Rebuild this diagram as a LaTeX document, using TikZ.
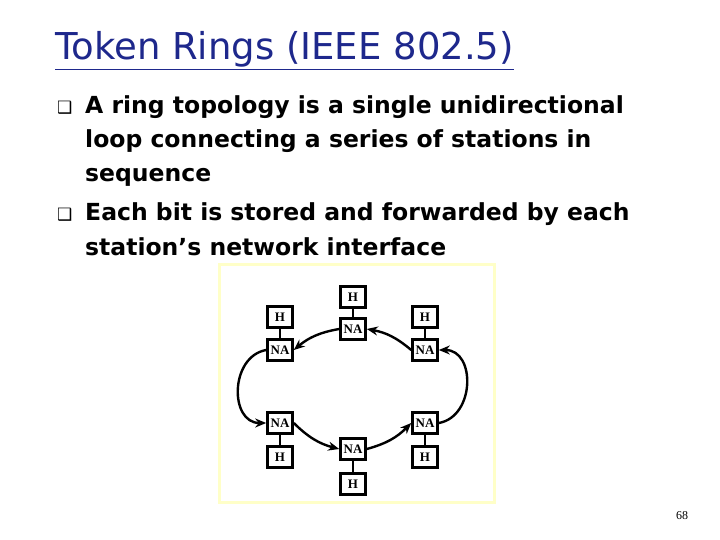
\documentclass[tikz,border=0pt]{standalone}
\usepackage{fontspec}
\setmainfont{DejaVu Sans}
\newfontfamily\serifnum{Liberation Serif}
\usetikzlibrary{arrows.meta}
\definecolor{titleblue}{RGB}{30,40,140}
\definecolor{frameyel}{RGB}{255,255,200}
\tikzset{
  box/.style={draw,line width=2.6pt,minimum width=25pt,minimum height=21pt,inner sep=0pt,font=\serifnum\bfseries\fontsize{13}{14}\selectfont},
  link/.style={line width=2.2pt},
  ring/.style={line width=2.4pt,-{Stealth[length=11pt,width=9pt]}},
  body/.style={anchor=base west,font=\fontsize{23.5}{26}\selectfont\bfseries,inner sep=0pt}
}
\begin{document}
\begin{tikzpicture}[x=1pt,y=-1pt]
\useasboundingbox (0,0) rectangle (720,540);
\fill[white] (0,0) rectangle (720,540);
\node[anchor=base west,inner sep=0pt,text=titleblue,font=\fontsize{37}{40}\selectfont] (title) at (55,60) {\underline{Token Rings (IEEE 802.5)}};
\node[body] (b1) at (57,114) {\fontsize{17}{18}\selectfont ❑};
\node[body] (l1) at (85,114) {A ring topology is a single unidirectional};
\node[body] (l2) at (85,148) {loop connecting a series of stations in};
\node[body] (l3) at (85,182) {sequence};
\node[body] (b2) at (57,221) {\fontsize{17}{18}\selectfont ❑};
\node[body] (l4) at (85,221) {Each bit is stored and forwarded by each};
\node[body] (l5) at (85,255) {station’s network interface};
\draw[frameyel,line width=3pt] (219,264) rectangle (494,502);
% stations
\node[box] (hT) at (353,297) {H};
\node[box] (nT) at (353,329) {NA};
\node[box] (hLT) at (280,317) {H};
\node[box] (nLT) at (280,350) {NA};
\node[box] (hRT) at (425,317) {H};
\node[box] (nRT) at (425,350) {NA};
\node[box] (nLB) at (280,423) {NA};
\node[box] (hLB) at (280,457) {H};
\node[box] (nRB) at (425,423) {NA};
\node[box] (hRB) at (425,457) {H};
\node[box] (nB) at (353,449) {NA};
\node[box] (hB) at (353,484) {H};
\foreach \a/\b in {hT/nT,hLT/nLT,hRT/nRT,hLB/nLB,hRB/nRB,hB/nB} \draw[link] (\a) -- (\b);
% ring
\draw[ring] (nT.west) to[bend right=15] (nLT.east);
\draw[ring] (nLT.west) to[out=190,in=180,looseness=1.3] (nLB.west);
\draw[ring] (nLB.east) to[bend right=15] (nB.west);
\draw[ring] (nB.east) to[bend right=15] (nRB.west);
\draw[ring] (nRB.east) to[out=10,in=0,looseness=1.3] (nRT.east);
\draw[ring] (nRT.west) to[bend right=15] (nT.east);
\node[font=\serifnum\fontsize{12}{14}\selectfont] (pg) at (682,516) {68};
\end{tikzpicture}
\end{document}
